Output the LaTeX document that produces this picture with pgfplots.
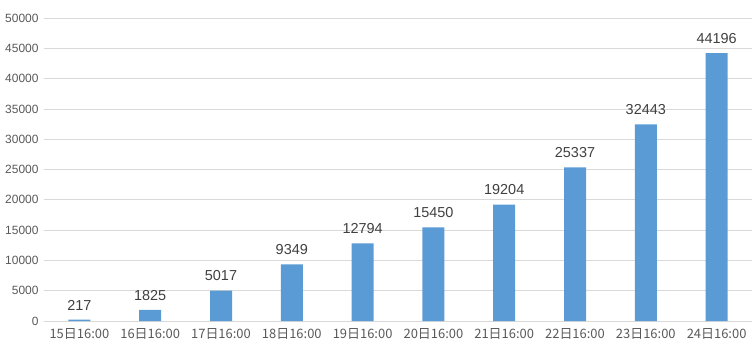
\documentclass[border=0pt]{standalone}
\usepackage{fontspec}
\setmainfont{Liberation Sans}
\newfontfamily\cjk{Noto Sans CJK SC}
\usepackage{pgfplots}
\pgfplotsset{compat=1.18}
\definecolor{barblue}{HTML}{5B9BD5}
\definecolor{gridgray}{HTML}{D9D9D9}
\definecolor{ticktext}{HTML}{595959}
\definecolor{labeltext}{HTML}{404040}
\begin{document}
\begin{tikzpicture}[x=1bp,y=1bp]
\useasboundingbox (0,0) rectangle (754,348);
\begin{axis}[
  at={(44bp,27bp)}, anchor=south west,
  scale only axis, width=708bp, height=303bp,
  ybar, bar width=22bp,
  xmin=-0.5, xmax=9.5, ymin=0, ymax=50000,
  xtick=data,
  xticklabels={{15日16:00},{16日16:00},{17日16:00},{18日16:00},{19日16:00},{20日16:00},{21日16:00},{22日16:00},{23日16:00},{24日16:00}},
  ytick={0,5000,...,50000},
  scaled y ticks=false,
  /pgf/number format/.cd, fixed, 1000 sep={}, assume math mode=true, /pgfplots/.cd,
  ymajorgrids, grid style={gridgray, line width=0.75bp},
  axis x line*=bottom,
  axis y line*=left,
  x axis line style={draw=gridgray, line width=0.75bp, -},
  y axis line style={draw=none},
  major tick length=0pt,
  yticklabel style={font=\fontsize{12}{14}\selectfont, text=ticktext, xshift=-2bp},
  xticklabel style={font=\cjk\fontsize{13}{15}\selectfont, text=ticktext, yshift=-4bp},
  nodes near coords,
  nodes near coords style={font=\fontsize{14.5}{16}\selectfont, text=labeltext, yshift=6bp},
  clip=false,
]
\addplot[fill=barblue, draw=none] coordinates {
(0,217) (1,1825) (2,5017) (3,9349) (4,12794) (5,15450) (6,19204) (7,25337) (8,32443) (9,44196)};
\end{axis}
\end{tikzpicture}
\end{document}
